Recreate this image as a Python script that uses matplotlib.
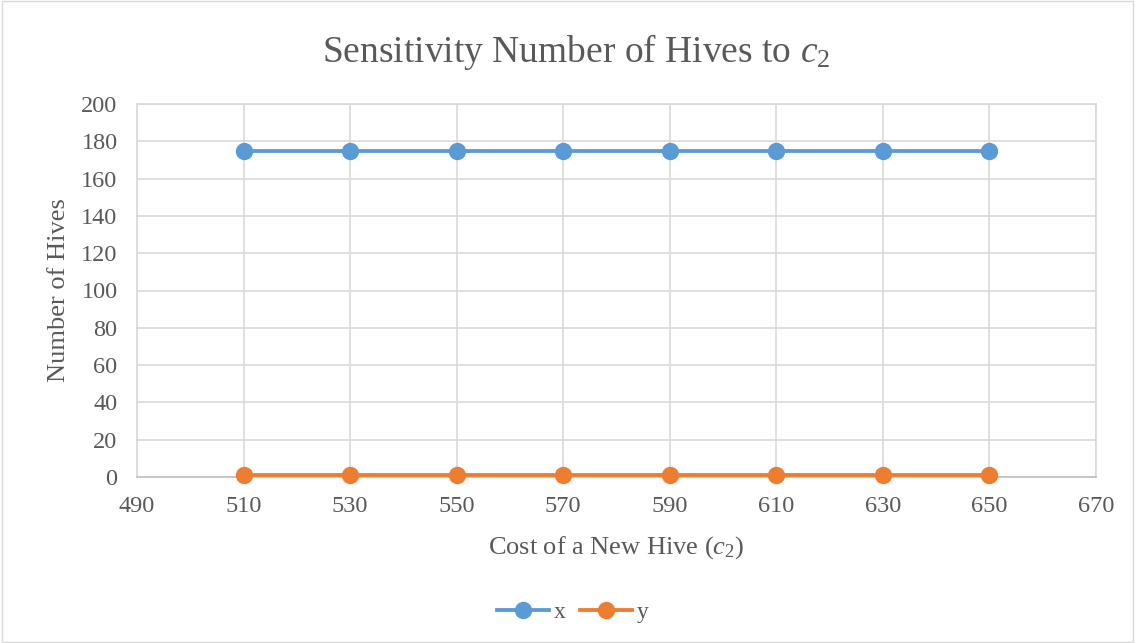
import matplotlib.pyplot as plt
from matplotlib.patches import Rectangle

# data
cost = [510, 530, 550, 570, 590, 610, 630, 650]
x_hives = [175, 175, 175, 175, 175, 175, 175, 175]
y_hives = [1, 1, 1, 1, 1, 1, 1, 1]

blue = '#5B9BD5'
orange = '#ED7D31'
text_col = '#595959'
grid_col = '#D9D9D9'

plt.rcParams['font.family'] = ['Liberation Serif', 'DejaVu Serif']
plt.rcParams['mathtext.fontset'] = 'custom'
plt.rcParams['mathtext.it'] = 'Liberation Serif:italic'
plt.rcParams['mathtext.rm'] = 'Liberation Serif'

fig = plt.figure(figsize=(11.35, 6.43), dpi=100)
ax = fig.add_axes([137 / 1135, 1 - 477 / 643, (1096 - 137) / 1135, (477 - 104) / 643])

# outer chart border
fig.patches.append(Rectangle((0.002, 0.002), 0.996, 0.996, transform=fig.transFigure,
                             fill=False, edgecolor='#D9D9D9', linewidth=1))

ax.plot(cost, x_hives, color=blue, lw=2.75, marker='o', ms=11.5, label='x', zorder=3, clip_on=False)
ax.plot(cost, y_hives, color=orange, lw=2.75, marker='o', ms=11.5, label='y', zorder=3, clip_on=False)

ax.set_xlim(490, 670)
ax.set_ylim(0, 200)
ax.set_xticks(range(490, 671, 20))
ax.set_yticks(range(0, 201, 20))
ax.grid(True, color=grid_col, lw=1.2)
ax.set_axisbelow(True)
for side in ['top', 'right', 'left']:
    ax.spines[side].set_color(grid_col)
    ax.spines[side].set_linewidth(1.2)
ax.spines['bottom'].set_color('#BFBFBF')
ax.spines['bottom'].set_linewidth(1.2)
ax.tick_params(length=0, labelsize=17.5, colors=text_col)
ax.tick_params(axis='x', pad=14)
ax.tick_params(axis='y', pad=14)

# title is centred on the whole chart, not the plot area
fig.text(576 / 1135, 1 - 52 / 643, r'Sensitivity Number of Hives to $c_2$', fontsize=27,
         color=text_col, ha='center', va='center')
ax.set_xlabel(r'Cost of a New Hive ($c_2$)', fontsize=19, color=text_col, labelpad=12)
ax.set_ylabel('Number of Hives', fontsize=19, color=text_col, labelpad=8)

fig.legend(loc='center', bbox_to_anchor=(573 / 1135, 1 - 612 / 643), ncol=2, frameon=False,
           fontsize=17, labelcolor=text_col, handlelength=2.2, columnspacing=0.6, handletextpad=0.2)

fig.savefig('out.png', dpi=100)
